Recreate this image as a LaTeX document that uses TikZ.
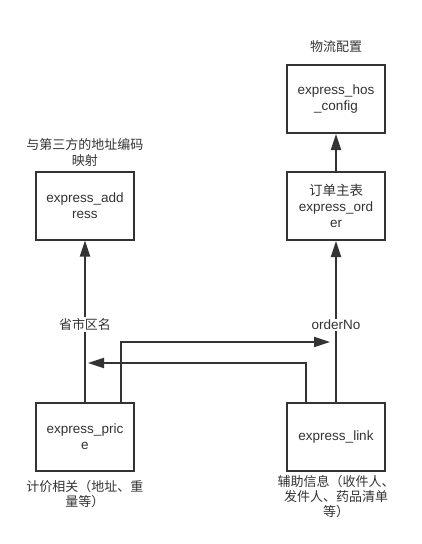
\documentclass[tikz,border=0pt]{standalone}
\usepackage{fontspec}
\setmainfont{Liberation Sans}
\newfontfamily\cjk{Noto Sans CJK SC}
\usetikzlibrary{arrows.meta}
\definecolor{ink}{HTML}{333333}
\begin{document}
\begin{tikzpicture}[x=1pt,y=-1pt,
 tbl/.style={draw=ink, line width=2pt, minimum width=98pt, minimum height=68pt, inner sep=0pt, align=center, text=ink, font=\fontsize{13.5}{16}\selectfont},
 note/.style={align=center, text=ink, font=\cjk\fontsize{13}{15}\selectfont, inner sep=1pt},
 lat/.style={align=center, text=ink, font=\fontsize{13.5}{15}\selectfont, inner sep=1pt},
 link/.style={draw=ink, line width=2pt, -{Triangle[length=16pt,width=10pt]}},
]
\useasboundingbox[fill=white] (0,0) rectangle (421,544);
\node[tbl] (cfg) at (336,99) {express\_hos\\\_config};
\node[tbl] (ord) at (336,206) {{\cjk 订单主表}\\express\_ord\\er};
\node[tbl] (addr) at (85,205.5) {express\_add\\ress};
\node[tbl] (price) at (85,437) {express\_pric\\e};
\node[tbl] (lnk) at (336,437) {express\_link};
\node[note] (cfgl) at (336,47) {物流配置};
\node[note,font=\cjk\fontsize{13}{16}\selectfont] (addrl) at (85,153) {与第三方的地址编码\\映射};
\node[note,font=\cjk\fontsize{13}{14.5}\selectfont] (pricel) at (85,494) {计价相关（地址、重\\量等）};
\node[note] (lnkl) at (336,497) {辅助信息（收件人、\\发件人、药品清单\\等）};
\draw[link] (ord.north) -- (cfg.south);
\draw[link] (price.north) -- node[note, fill=white, pos=0.48] {省市区名} (addr.south);
\draw[link] (lnk.north) -- node[lat, fill=white, pos=0.48] {orderNo} (ord.south);
\coordinate (t1) at (330,342);
\coordinate (t2) at (88,363);
\draw[link] ([xshift=36pt]price.north) |- (t1);
\draw[link] ([xshift=-30pt]lnk.north) |- (t2);
\end{tikzpicture}
\end{document}
